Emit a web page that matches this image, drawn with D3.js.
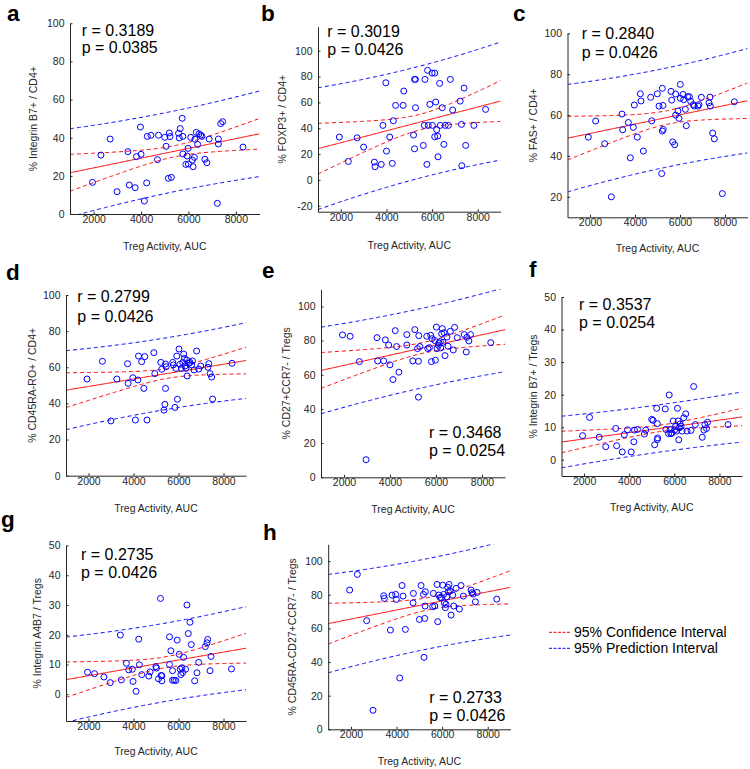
<!DOCTYPE html>
<html><head><meta charset="utf-8">
<script src="https://cdn.jsdelivr.net/npm/d3@7"></script>
<style>
html,body{margin:0;padding:0;background:#fff;}
svg{display:block;font-family:"Liberation Sans",Arial,sans-serif;}
</style></head>
<body><svg id="chart" width="750" height="769"></svg>
<script>
// ---------------- data ----------------
const xTicks = [2000, 4000, 6000, 8000];
const xDomain = [1000, 9000];

const aX = [1950,2306,2694,2986,3444,3500,3750,3806,3972,4000,4139,4236,4264,4417,4694,4736,5000,5056,5153,5194,5222,5278,5736,5653,5583,5611,5764,5764,5889,5944,5986,6000,6097,6167,6194,6250,6278,6333,6389,6444,6514,6569,6694,6778,6875,7222,7264,7264,7361,7444,8306];
const aY = [16.6,30.9,39.3,11.7,32.7,15.2,13.8,30.1,45.6,31.3,6.8,16.3,40.7,41.3,28.5,41.3,40.2,35.5,18.7,42.5,40.6,19.2,50.2,44.8,42.3,39.9,40.7,31.5,26.0,30.4,34.4,26.2,40.2,28.3,24.8,29.7,39.2,42.8,36.5,42.0,41.4,40.7,28.7,26.9,39.3,5.6,39.3,36.7,47.4,48.4,35.1];

const bX = [1934,2329,2714,3000,3471,3500,3771,3843,3971,4000,4143,4257,4300,4400,4729,4757,5186,5229,5229,5271,5271,5614,5657,5686,5771,5800,5829,5900,6000,6014,6114,6114,6157,6200,6243,6257,6329,6357,6443,6514,6571,6714,6800,6900,7229,7286,7300,7400,7471,7829,8343];
const bY = [33.2,14.3,32.6,25.4,13.8,10.2,12.0,42.2,75.2,22.3,33.2,12.8,45.8,57.7,57.7,68.8,34.7,24.1,77.8,77.8,55.9,26.7,42.2,77.8,12.0,84.8,42.2,58.5,82.7,42.2,82.7,33.4,60.3,38.8,33.9,17.9,74.7,42.2,55.9,27.5,42.2,42.2,77.8,54.1,61.0,43.0,11.0,71.1,26.7,42.2,54.6];

const cX = [1926,2252,2652,2948,3422,3452,3704,3793,3926,3970,4104,4237,4267,4370,4696,4741,4993,5067,5185,5215,5215,5244,5259,5600,5630,5674,5763,5807,5807,5911,5956,6015,6015,6133,6163,6237,6281,6341,6415,6474,6593,6637,6800,6844,6948,7289,7333,7348,7452,7526,7881,8415];
const cY = [49.2,57.1,46.0,20.0,60.5,52.8,56.4,39.1,54.0,64.9,49.2,70.4,66.9,42.4,68.7,57.2,70.4,64.4,31.4,73.1,52.2,64.7,53.0,71.6,67.3,46.9,45.5,70.3,60.0,62.0,58.4,75.0,68.2,70.1,67.5,62.8,54.8,69.0,69.0,66.7,65.1,64.4,64.4,65.1,68.7,66.0,68.8,64.4,51.2,48.4,21.6,66.5];

const dX = [1935,2619,2995,3260,3735,3762,3972,4083,4195,4223,4362,4460,4502,4599,4906,4948,5213,5255,5353,5395,5423,5423,5450,5743,5771,5841,5883,5925,5953,6022,6064,6134,6190,6232,6260,6287,6329,6371,6385,6469,6511,6581,6622,6692,6804,6901,6985,7306,7348,7403,7473,7515,8380];
const dY = [53.5,63.3,30.3,53.5,62.0,51.1,54.2,30.8,53.0,66.2,63.1,48.3,65.9,30.8,68.1,56.5,62.7,58.9,36.3,39.5,48.3,61.8,60.3,62.7,61.3,37.8,59.4,66.2,42.3,70.1,61.6,59.4,62.7,67.3,64.9,60.7,59.4,64.0,55.2,62.2,62.7,61.3,63.5,58.5,69.0,59.0,60.7,60.0,62.0,56.5,54.6,42.4,62.2];

const eX = [1935,2267,2670,2959,3435,3464,3723,3795,3939,3997,4127,4228,4285,4386,4732,4732,4992,5079,5194,5237,5252,5237,5295,5598,5641,5713,5771,5800,5828,5944,5973,6016,6045,6102,6131,6189,6203,6246,6275,6304,6348,6391,6477,6521,6622,6751,6809,6924,7227,7314,7343,7429,7501,8381];
const eY = [83.3,82.5,67.7,10.3,81.7,68.1,68.1,80.4,77.4,65.8,57.2,85.8,76.5,61.5,83.5,77.4,68.1,86.4,75.3,67.9,82.9,46.9,76.5,82.5,75.3,75.9,83.1,67.7,81.1,80.0,68.5,87.9,75.3,77.2,78.6,79.4,75.7,84.0,87.0,79.0,84.6,71.2,82.1,76.7,85.4,74.5,87.7,81.7,83.5,73.3,81.9,79.8,83.5,78.8];

const fX = [1935,2243,2668,2961,3400,3444,3693,3781,3927,4089,4206,4235,4367,4675,4733,4997,5055,5129,5217,5246,5246,5261,5598,5627,5744,5773,5817,5847,5891,5949,6008,6052,6096,6140,6169,6198,6227,6257,6301,6345,6418,6506,6564,6740,6857,6931,7238,7312,7356,7429,7473,8381];
const fY = [7.4,13.0,6.9,4.0,9.6,4.3,2.4,7.7,9.2,2.4,5.5,9.1,9.3,7.9,9.1,12.4,12.1,4.6,15.8,11.1,6.2,6.7,15.6,9.3,8.0,19.9,9.3,8.0,8.2,11.9,9.1,10.2,8.8,15.8,11.9,6.1,9.8,11.0,10.3,8.8,12.9,14.1,8.8,9.0,22.5,10.8,6.9,9.1,10.8,9.6,11.5,10.8];

const gX = [1955,2268,2685,2967,3414,3458,3682,3786,3949,3979,4113,4232,4262,4366,4679,4738,4991,5021,5110,5199,5229,5259,5259,5601,5601,5661,5735,5735,5810,5884,5943,6033,6077,6107,6152,6182,6226,6315,6375,6435,6509,6568,6717,6821,6896,7193,7268,7298,7402,7446,8354];
const gY = [7.4,6.9,5.8,3.9,19.9,4.8,10.4,8.2,8.4,4.3,1.0,18.5,9.9,6.6,6.1,7.5,9.3,8.8,5.2,32.2,6.3,4.5,6.2,10.0,19.3,14.6,7.9,4.7,4.7,4.6,18.2,13.4,8.4,6.6,8.9,7.3,12.4,8.4,30.0,20.4,24.2,16.7,4.5,7.2,10.7,16.0,17.3,18.4,7.9,12.7,8.5];

const hX = [1941,2278,2688,2966,3435,3464,3728,3800,3961,3991,4138,4240,4284,4387,4723,4738,5001,5074,5176,5206,5235,5250,5264,5587,5616,5674,5777,5806,5850,5909,5967,6026,6069,6099,6142,6172,6201,6245,6274,6304,6347,6391,6465,6508,6611,6757,6830,6933,7270,7313,7357,7460,7533,8396];
const hY = [82.8,92.1,64.6,11.3,79.4,77.8,59.0,79.8,80.2,77.2,30.5,85.5,79.2,59.4,75.2,80.8,65.3,85.5,80.2,42.8,65.9,73.3,81.8,72.9,80.8,73.3,86.1,64.0,79.8,78.4,78.2,85.7,80.2,75.2,72.3,74.3,78.8,84.4,81.8,86.1,82.2,67.9,79.8,73.3,83.8,71.5,85.5,79.2,82.8,81.2,80.4,75.8,81.4,77.4];

const panelLetters = ["a","b","c","d","e","f","g","h"];
const yLabels = ["% Integrin B7+ / CD4+","% FOXP3+ / CD4+","% FAS+ / CD4+","% CD45RA-RO+ / CD4+","% CD27+CCR7- / Tregs","% Integrin B7+ / Tregs","% Integrin A4B7 / Tregs","% CD45RA-CD27+CCR7- / Tregs"];
const rTexts = ["r = 0.3189","r = 0.3019","r = 0.2840","r = 0.2799","r = 0.3468","r = 0.3537","r = 0.2735","r = 0.2733"];
const pTexts = ["p = 0.0385","p = 0.0426","p = 0.0426","p = 0.0426","p = 0.0254","p = 0.0254","p = 0.0426","p = 0.0426"];
const yTickSets = [[0,20,40,60,80,100],[-20,0,20,40,60,80,100],[20,40,60,80,100],[0,20,40,60,80,100],[0,20,40,60,80,100],[0,10,20,30,40,50],[0,10,20,30,40,50],[0,20,40,60,80,100]];
const yDomains = [[0,100],[-24.6,118.6],[10,100],[0,100],[0,110],[-5,50],[-9,50],[0,110]];
const xTitle = "Treg Activity, AUC";
const legendLabels = ["95% Confidence Interval","95% Prediction Interval"];

// ---------------- layout ----------------
const layout = [
  {L:70,   R:259.5, T:23.3,  B:214,   ylx:33,    let:[7,21],   st:[81.7,36,53.3],   xt:250},
  {L:318,  R:500.6, T:26.7,  B:211.7, ylx:282,   let:[261,21], st:[327.3,36.7,55],  xt:249},
  {L:567.5,R:747.5, T:33.3,  B:217.3, ylx:533,   let:[513,21], st:[581.7,39.3,58.3],xt:252},
  {L:66,   R:246,   T:295,   B:475.7, ylx:32,    let:[6,280],  st:[77.3,302.3,321.7],xt:512},
  {L:321,  R:505,   T:289.3, B:477.3, ylx:286.7, let:[262,278],st:[429,437.7,455.7],xt:513},
  {L:561.5,R:742,   T:297,   B:476,   ylx:533,   let:[529,277],st:[579,310,328.3],  xt:511},
  {L:66,   R:246,   T:545.5, B:721,   ylx:37,    let:[1,527],  st:[81,560,578.3],   xt:755},
  {L:328.2,R:510.5, T:544.3, B:729.3, ylx:292,   let:[263,540],st:[429.3,702.7,721],xt:765}
];
const series = [[aX,aY],[bX,bY],[cX,cY],[dX,dY],[eX,eY],[fX,fY],[gX,gY],[hX,hY]];

const BLUE = "#0000ff", RED = "#ff0000", AX = "#262626";
const T_CRIT = 2.008; // t(0.975, ~50 df)

function regression(xs, ys){
  const n = xs.length, mx = d3.mean(xs), my = d3.mean(ys);
  let sxx=0, sxy=0;
  for(let i=0;i<n;i++){ sxx += (xs[i]-mx)**2; sxy += (xs[i]-mx)*(ys[i]-my); }
  const b = sxy/sxx, a = my - b*mx;
  let sse=0; for(let i=0;i<n;i++){ sse += (ys[i]-(a+b*xs[i]))**2; }
  const s = Math.sqrt(sse/(n-2));
  return {n,mx,sxx,a,b,s};
}

const svg = d3.select("#chart");
const grid = d3.range(xDomain[0], xDomain[1]+1, 50);

layout.forEach((g, i) => {
  const [xs, ys] = series[i];
  const x = d3.scaleLinear().domain(xDomain).range([g.L, g.R]);
  const y = d3.scaleLinear().domain(yDomains[i]).range([g.B, g.T]);
  const grp = svg.append("g");

  const clipId = "clip"+i;
  svg.append("clipPath").attr("id", clipId).append("rect")
    .attr("x", g.L).attr("y", g.T).attr("width", g.R-g.L).attr("height", g.B-g.T);

  const reg = regression(xs, ys);
  const fitY = xv => reg.a + reg.b*xv;
  const se = (xv, extra) => T_CRIT*reg.s*Math.sqrt(extra + 1/reg.n + (xv-reg.mx)**2/reg.sxx);
  const line = d3.line().x(d => x(d[0])).y(d => y(d[1]));
  const plot = grp.append("g").attr("clip-path", `url(#${clipId})`);

  const curves = [
    {pts: grid.map(v => [v, fitY(v)+se(v,1)]), c: BLUE, dash: "4,3"},
    {pts: grid.map(v => [v, fitY(v)-se(v,1)]), c: BLUE, dash: "4,3"},
    {pts: grid.map(v => [v, fitY(v)+se(v,0)]), c: RED, dash: "4,3"},
    {pts: grid.map(v => [v, fitY(v)-se(v,0)]), c: RED, dash: "4,3"},
    {pts: grid.map(v => [v, fitY(v)]), c: RED, dash: null}
  ];
  curves.forEach(cv => {
    plot.append("path").attr("d", line(cv.pts)).attr("fill","none")
      .attr("stroke", cv.c).attr("stroke-width", 1)
      .attr("stroke-dasharray", cv.dash);
  });

  plot.selectAll("circle").data(xs.map((v,k)=>[v, ys[k]])).join("circle")
    .attr("cx", d => x(d[0])).attr("cy", d => y(d[1])).attr("r", 3)
    .attr("fill","none").attr("stroke", BLUE).attr("stroke-width", 1);

  // axes
  const ax = grp.append("g").attr("transform", `translate(0,${g.B})`)
    .call(d3.axisBottom(x).tickValues(xTicks).tickSizeInner(-2.5).tickSizeOuter(0).tickPadding(1.5).tickFormat(d => String(d)));
  const ay = grp.append("g").attr("transform", `translate(${g.L},0)`)
    .call(d3.axisLeft(y).tickValues(yTickSets[i]).tickSizeInner(-2.5).tickSizeOuter(0).tickPadding(5.5).tickFormat(d => String(d)));
  [ax, ay].forEach(a => {
    a.selectAll("path,line").attr("stroke", AX);
    a.selectAll("text").attr("fill", AX).style("font-size","10.5px").style("font-family",'"Liberation Sans",Arial,sans-serif');
  });

  // titles
  grp.append("text").attr("x", (g.L+g.R)/2).attr("y", g.xt).attr("text-anchor","middle")
    .style("font-size","10.5px").attr("fill", AX).text(xTitle);
  grp.append("text").attr("transform", `translate(${g.ylx},${(g.T+g.B)/2}) rotate(-90)`)
    .attr("text-anchor","middle").attr("dy","0.35em").style("font-size","10.5px").attr("fill", AX).text(yLabels[i]);
  grp.append("text").attr("x", g.let[0]).attr("y", g.let[1]).style("font-size","22.5px").style("font-weight","bold")
    .attr("fill","#000").text(panelLetters[i]);
  grp.append("text").attr("x", g.st[0]).attr("y", g.st[1]).style("font-size","16px").attr("fill","#000").text(rTexts[i]);
  grp.append("text").attr("x", g.st[0]).attr("y", g.st[2]).style("font-size","16px").attr("fill","#000").text(pTexts[i]);
});

// legend
const leg = svg.append("g");
[[RED, 632.3, 636.8],[BLUE, 648.3, 652.8]].forEach((d, k) => {
  leg.append("line").attr("x1", 549).attr("x2", 571).attr("y1", d[1]).attr("y2", d[1])
    .attr("stroke", d[0]).attr("stroke-width", 1).attr("stroke-dasharray", "3,1.5");
  leg.append("text").attr("x", 574).attr("y", d[2]).style("font-size","14px").attr("fill","#000").text(legendLabels[k]);
});
</script></body></html>
